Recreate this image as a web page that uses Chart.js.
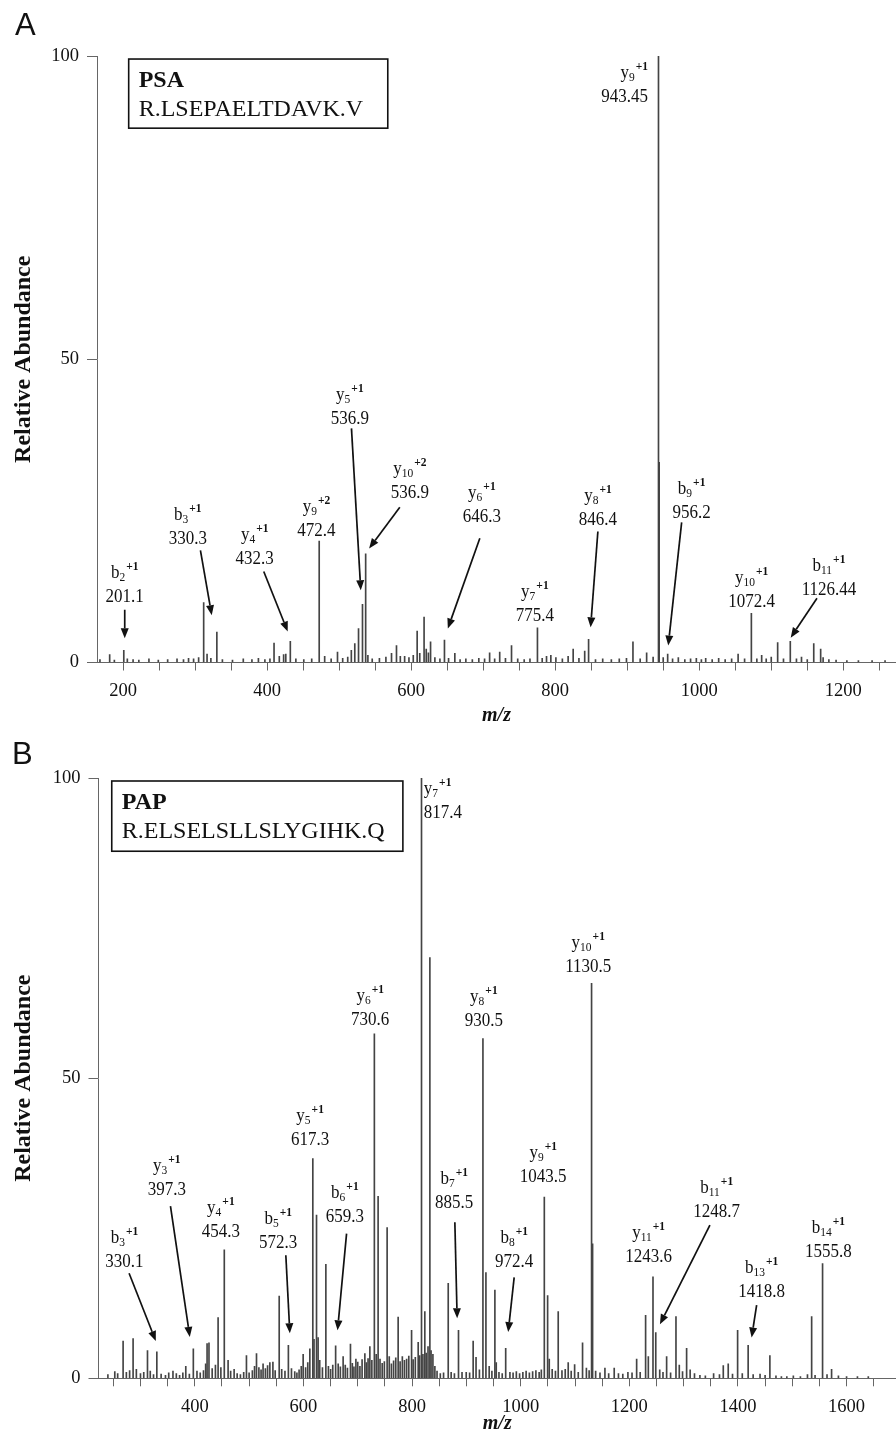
<!DOCTYPE html>
<html>
<head>
<meta charset="utf-8">
<title>MS/MS spectra of PSA and PAP peptides</title>
<script src="https://cdn.jsdelivr.net/npm/chart.js@4.4.1/dist/chart.umd.min.js"></script>
<style>
  html, body { margin: 0; padding: 0; background: #fff; }
  #wrap { position: relative; width: 896px; height: 1436px; overflow: hidden; background: #fff; }
  canvas { position: absolute; left: 0; display: block; }
  #cA { top: 0; }
  #cB { top: 730px; }
  .letter { position: absolute; font-family: "Liberation Sans", Arial, sans-serif; font-size: 31px; line-height: 1; color: #111; }
</style>
</head>
<body>
<div id="wrap">
  <canvas id="cA" width="896" height="730" style="width:896px;height:730px"></canvas>
  <canvas id="cB" width="896" height="706" style="width:896px;height:706px"></canvas>
  <div class="letter" style="left:15px;top:9px">A</div>
  <div class="letter" style="left:12px;top:738px">B</div>
</div>
<script>
const SERIF = '"Liberation Serif", "Times New Roman", Times, serif';

// ---------- Panel A: PSA, R.LSEPAELTDAVK.V ----------
const mzA = [168, 181.5, 188, 201.1, 206, 214, 222, 236, 249, 262, 275, 284, 291, 298, 305, 312, 316.7, 322, 330.3, 338,
  352, 367, 379, 388, 397, 404, 409.7, 417, 423, 426, 432.3, 440, 451, 462, 472.4, 480, 489, 497.8, 505, 512,
  517, 521.8, 527, 532.5, 536.9, 540, 546, 556, 565, 572.8, 579.7, 585, 591, 597, 603, 608.4, 612, 618, 621, 624,
  627, 633, 640, 646.3, 652, 660.7, 668, 676, 685, 694, 702, 709, 716, 723, 731, 739.4, 748, 757, 765, 775.4,
  782, 788, 794, 801, 810, 818, 825, 833, 841, 846.4, 856, 866, 878, 889, 899, 908, 918, 927, 936, 943.45,
  944.4, 950, 956.2, 963, 971, 980, 988, 996, 1003, 1009, 1018, 1027, 1036, 1045, 1054, 1063, 1072.4, 1080, 1086.7, 1093,
  1100, 1108.9, 1117, 1126.44, 1135, 1142, 1150, 1159, 1168.6, 1172, 1180, 1190, 1205, 1221, 1240, 1258];
const abundanceA = [0.5, 1.3, 0.4, 2.0, 0.6, 0.5, 0.4, 0.6, 0.4, 0.5, 0.6, 0.5, 0.7, 0.6, 0.8, 9.9, 1.4, 0.7, 5.0, 0.5,
  0.4, 0.6, 0.5, 0.7, 0.5, 0.6, 3.2, 1.0, 1.3, 1.4, 3.5, 0.6, 0.5, 0.6, 20.0, 1.0, 0.6, 1.7, 0.7, 0.9,
  2.0, 3.1, 5.6, 9.6, 17.9, 1.2, 0.6, 0.7, 0.9, 1.5, 2.8, 1.0, 1.0, 0.8, 1.2, 5.2, 1.5, 7.5, 2.2, 1.6,
  3.4, 0.8, 0.6, 3.7, 0.7, 1.5, 0.5, 0.6, 0.5, 0.7, 0.6, 1.6, 0.6, 1.7, 0.7, 2.8, 0.6, 0.5, 0.6, 5.7,
  0.7, 1.0, 1.2, 0.8, 0.6, 1.0, 2.2, 0.7, 1.9, 3.8, 0.5, 0.6, 0.5, 0.6, 0.7, 3.4, 0.6, 1.6, 0.9, 100,
  33, 0.8, 1.4, 0.6, 0.8, 0.5, 0.6, 0.7, 0.5, 0.7, 0.5, 0.7, 0.5, 0.6, 1.4, 0.6, 8.1, 0.6, 1.2, 0.6,
  0.9, 3.3, 0.6, 3.5, 0.6, 0.9, 0.5, 3.1, 2.2, 0.8, 0.5, 0.4, 0.3, 0.3, 0.3, 0.3];
const xTicksA = [200, 250, 300, 350, 400, 450, 500, 550, 600, 650, 700, 750, 800, 850, 900, 950, 1000, 1050, 1100, 1150, 1200, 1250];
const xTickLabelsA = [200, 400, 600, 800, 1000, 1200];

// labelled fragment ions (mz is the labelled peak)
const ionsA = [
  { ion: 'b', n: '2', z: '+1', mz: 201.1 },
  { ion: 'b', n: '3', z: '+1', mz: 330.3 },
  { ion: 'y', n: '4', z: '+1', mz: 432.3 },
  { ion: 'y', n: '9', z: '+2', mz: 472.4 },
  { ion: 'y', n: '5', z: '+1', mz: 536.9 },
  { ion: 'y', n: '10', z: '+2', mz: 536.9 },
  { ion: 'y', n: '6', z: '+1', mz: 646.3 },
  { ion: 'y', n: '7', z: '+1', mz: 775.4 },
  { ion: 'y', n: '8', z: '+1', mz: 846.4 },
  { ion: 'y', n: '9', z: '+1', mz: 943.45 },
  { ion: 'b', n: '9', z: '+1', mz: 956.2 },
  { ion: 'y', n: '10', z: '+1', mz: 1072.4 },
  { ion: 'b', n: '11', z: '+1', mz: 1126.44 }
];
// label anchors in (m/z, abundance) units; arrow = [from, to]
const placeA = [
  { at: [202.4, 9.9], arrow: [[202.4, 8.7], [202.4, 4.0]] },
  { at: [289.9, 19.6], arrow: [[307.5, 18.5], [323.2, 7.8]] },
  { at: [382.9, 16.3], arrow: [[395.4, 15.0], [428.7, 5.1]] },
  { at: [468.6, 20.8] },
  { at: [514.9, 39.4], arrow: [[517.2, 38.6], [530.1, 11.9]] },
  { at: [598.2, 27.1], arrow: [[584.3, 25.6], [541.7, 18.8]] },
  { at: [698.2, 23.1], arrow: [[695.4, 20.5], [651.0, 5.6]] },
  { at: [771.8, 6.9] },
  { at: [859.3, 22.6], arrow: [[859.3, 21.6], [849.2, 5.8]] },
  { at: [928.8, 92.4], align: 'right' },
  { at: [989.4, 23.9], arrow: [[975.6, 23.1], [957.0, 2.8]] },
  { at: [1072.8, 9.1] },
  { at: [1180.1, 11.1], arrow: [[1163.5, 10.6], [1127.0, 4.1]] }
];

// ---------- Panel B: PAP, R.ELSELSLLSLYGIHK.Q ----------
const mzB = [240, 252.7, 258, 268, 274, 280, 286.4, 292.4, 300, 306, 312.9, 318, 324, 330.1, 338, 346, 352, 359.8, 366, 372,
  378, 383.4, 390, 397.3, 404, 410, 416, 420, 422.6, 426.1, 432, 438, 442.9, 448, 454.3, 461.3, 466, 472.4, 478, 484,
  490, 495.1, 500, 506, 510, 513.6, 518, 522, 525.7, 530, 534, 538.2, 543.8, 548, 555.4, 560, 566, 572.3, 578, 584,
  588, 592, 596, 599.5, 604, 608, 611.8, 617.3, 619.5, 624.1, 627, 630, 635, 641.3, 646, 650, 654, 659.3, 664, 668,
  673.1, 677, 681, 686.6, 690, 693, 696.6, 700, 704, 708, 713.1, 716, 719, 722.3, 726, 730.6, 734, 737.5, 741, 745,
  749, 754.1, 758, 762, 766, 770, 774.4, 778, 782.1, 786, 790, 794, 799.1, 802, 806, 811.3, 814, 817.4, 820, 823.5,
  826, 829.4, 832.8, 835, 838.4, 842, 846, 852, 858, 866.6, 872, 878, 885.5, 892, 899.7, 906, 912.5, 917.8, 924, 930.5,
  936, 942, 947, 952.5, 955, 960, 966, 972.4, 980.2, 986, 992, 998, 1004, 1010, 1016, 1022, 1028, 1034, 1038, 1043.5,
  1049.6, 1052.6, 1058, 1064, 1069.1, 1076, 1082, 1087.5, 1093, 1099.3, 1106, 1113.9, 1121, 1126, 1130.5, 1132.4, 1138, 1146, 1155.1, 1162,
  1172.2, 1180, 1188, 1197.4, 1205, 1213.5, 1220, 1230, 1235, 1243.6, 1248.7, 1256, 1262, 1268.7, 1276, 1285.9, 1292, 1298, 1305.5, 1312,
  1320, 1330, 1340, 1355.2, 1366, 1373, 1382.1, 1390, 1399.4, 1408, 1418.8, 1428, 1440.7, 1450, 1458.8, 1470, 1480, 1490, 1502, 1515,
  1528, 1535.7, 1542, 1555.8, 1564, 1572.4, 1585, 1600, 1620, 1640];
const abundanceB = [0.6, 1.1, 0.8, 6.2, 1.0, 1.3, 6.6, 1.5, 0.8, 1.0, 4.6, 1.2, 0.6, 4.4, 0.7, 0.5, 0.9, 1.2, 0.8, 0.5,
  0.9, 2.0, 0.7, 4.9, 1.2, 0.9, 1.3, 2.4, 5.8, 5.9, 1.6, 2.2, 10.1, 1.8, 21.4, 3.0, 1.2, 1.5, 0.8, 0.6,
  1.0, 3.8, 0.9, 1.3, 2.0, 4.1, 1.8, 1.4, 2.4, 1.6, 2.1, 2.6, 2.7, 1.3, 13.7, 1.5, 1.2, 5.5, 1.6, 1.1,
  0.9, 1.4, 2.0, 4.0, 1.8, 2.6, 4.9, 36.6, 6.5, 27.2, 6.8, 3.0, 1.8, 19.0, 2.0, 1.5, 2.2, 5.4, 2.4, 1.9,
  3.6, 2.2, 1.7, 5.7, 2.5, 1.9, 3.2, 2.7, 2.0, 3.1, 4.1, 2.6, 3.3, 5.3, 3.0, 57.4, 4.0, 30.3, 3.2, 2.5,
  2.8, 25.1, 3.6, 2.4, 2.9, 3.4, 10.2, 2.8, 3.6, 3.0, 3.2, 3.7, 8.0, 3.1, 3.5, 6.0, 3.8, 100, 4.0, 11.1,
  4.2, 5.3, 70.1, 4.6, 4.0, 2.0, 1.2, 0.8, 0.9, 15.8, 1.0, 0.8, 8.0, 1.0, 1.0, 0.9, 6.2, 3.5, 1.4, 56.6,
  17.6, 2.0, 1.2, 14.7, 2.6, 1.0, 0.8, 5.0, 1.0, 0.9, 1.1, 0.8, 1.0, 1.2, 0.9, 1.1, 1.3, 1.0, 1.4, 30.2,
  13.8, 3.2, 1.5, 1.2, 11.1, 1.3, 1.5, 2.6, 1.2, 2.3, 1.0, 5.9, 1.7, 1.3, 65.8, 22.4, 1.2, 0.9, 1.7, 0.8,
  1.7, 0.8, 0.7, 1.0, 0.9, 3.2, 1.0, 10.5, 3.6, 16.9, 7.6, 1.4, 1.0, 3.6, 0.9, 10.3, 2.2, 1.1, 5.0, 1.4,
  0.8, 0.5, 0.4, 0.8, 0.6, 2.1, 2.4, 0.7, 8.0, 0.8, 5.5, 0.6, 0.7, 0.5, 3.8, 0.4, 0.3, 0.3, 0.4, 0.3,
  0.6, 10.3, 0.5, 19.1, 0.6, 1.5, 0.4, 0.3, 0.3, 0.3];
const xTicksB = [250, 300, 350, 400, 450, 500, 550, 600, 650, 700, 750, 800, 850, 900, 950, 1000, 1050, 1100, 1150,
  1200, 1250, 1300, 1350, 1400, 1450, 1500, 1550, 1600, 1650];
const xTickLabelsB = [400, 600, 800, 1000, 1200, 1400, 1600];

const ionsB = [
  { ion: 'b', n: '3', z: '+1', mz: 330.1 },
  { ion: 'y', n: '3', z: '+1', mz: 397.3 },
  { ion: 'y', n: '4', z: '+1', mz: 454.3 },
  { ion: 'b', n: '5', z: '+1', mz: 572.3 },
  { ion: 'y', n: '5', z: '+1', mz: 617.3 },
  { ion: 'b', n: '6', z: '+1', mz: 659.3 },
  { ion: 'y', n: '6', z: '+1', mz: 730.6 },
  { ion: 'y', n: '7', z: '+1', mz: 817.4 },
  { ion: 'b', n: '7', z: '+1', mz: 885.5 },
  { ion: 'y', n: '8', z: '+1', mz: 930.5 },
  { ion: 'b', n: '8', z: '+1', mz: 972.4 },
  { ion: 'y', n: '9', z: '+1', mz: 1043.5 },
  { ion: 'y', n: '10', z: '+1', mz: 1130.5 },
  { ion: 'y', n: '11', z: '+1', mz: 1243.6 },
  { ion: 'b', n: '11', z: '+1', mz: 1248.7 },
  { ion: 'b', n: '13', z: '+1', mz: 1418.8 },
  { ion: 'b', n: '14', z: '+1', mz: 1555.8 }
];
const placeB = [
  { at: [270.5, 18.5], arrow: [[279.0, 17.5], [328.2, 6.2]] },
  { at: [348.4, 30.5], arrow: [[355.2, 28.7], [390.8, 6.9]] },
  { at: [447.9, 23.5] },
  { at: [553.4, 21.7], arrow: [[567.6, 20.5], [575.0, 7.5]] },
  { at: [612.3, 38.8] },
  { at: [676.2, 26.0], arrow: [[679.4, 24.1], [662.8, 8.0]] },
  { at: [722.8, 58.8] },
  { at: [821.7, 93.3], align: 'left' },
  { at: [877.5, 28.3], arrow: [[878.8, 26.0], [883.0, 10.0]] },
  { at: [932.2, 58.7] },
  { at: [988.0, 18.5], arrow: [[988.0, 16.8], [977.0, 7.7]] },
  { at: [1041.4, 32.7] },
  { at: [1124.3, 67.7] },
  { at: [1235.5, 19.3] },
  { at: [1360.8, 26.8], arrow: [[1348.4, 25.5], [1256.4, 9.0]] },
  { at: [1443.6, 13.5], arrow: [[1434.4, 12.2], [1425.2, 6.8]] },
  { at: [1566.3, 20.2] }
];

const yTicks = [0, 50, 100];

// ---------- drawing helpers ----------
function stretchedText(ctx, text, x, y, sy) {
  ctx.save();
  ctx.translate(x, y);
  ctx.scale(1, sy);
  ctx.fillText(text, 0, 0);
  ctx.restore();
}

function drawIonLabel(ctx, ion, px, py, align) {
  const MAIN = 17, SMALL = 11.5, SY = 1.12;
  const value = String(ion.mz);
  ctx.fillStyle = '#111';
  ctx.textBaseline = 'alphabetic';
  ctx.textAlign = 'left';
  ctx.font = MAIN + 'px ' + SERIF;
  const wVal = ctx.measureText(value).width;
  const wIon = ctx.measureText(ion.ion).width;
  ctx.font = SMALL + 'px ' + SERIF;
  const wSub = ctx.measureText(ion.n).width;
  const wSup = ctx.measureText(ion.z).width;
  const wHead = wIon + wSub + wSup + 1;

  let xVal, xHead;
  if (align === 'right') { xVal = px - wVal; xHead = px - wHead; }
  else if (align === 'left') { xVal = px; xHead = px; }
  else { xVal = px - wVal / 2; xHead = px - wHead / 2; }

  ctx.font = MAIN + 'px ' + SERIF;
  stretchedText(ctx, value, xVal, py, SY);
  const hb = py - 24;
  stretchedText(ctx, ion.ion, xHead, hb, SY);
  ctx.font = SMALL + 'px ' + SERIF;
  stretchedText(ctx, ion.n, xHead + wIon, hb + 3, SY);
  ctx.font = 'bold ' + SMALL + 'px ' + SERIF;
  stretchedText(ctx, ion.z, xHead + wIon + wSub + 1, hb - 8, SY);
}

function drawArrow(ctx, x0, y0, x1, y1) {
  const ang = Math.atan2(y1 - y0, x1 - x0);
  const L = 10, W = 4;
  const bx = x1 - L * Math.cos(ang), by = y1 - L * Math.sin(ang);
  ctx.strokeStyle = '#111';
  ctx.lineWidth = 1.7;
  ctx.beginPath();
  ctx.moveTo(x0, y0);
  ctx.lineTo(bx, by);
  ctx.stroke();
  ctx.fillStyle = '#111';
  ctx.beginPath();
  ctx.moveTo(x1, y1);
  ctx.lineTo(bx + W * Math.sin(ang), by - W * Math.cos(ang));
  ctx.lineTo(bx - W * Math.sin(ang), by + W * Math.cos(ang));
  ctx.closePath();
  ctx.fill();
}

function annotationPlugin(p) {
  return {
    id: 'ionAnnotations',
    afterDatasetsDraw(chart) {
      const { ctx, scales: { x, y } } = chart;
      ctx.save();
      // peptide box
      const bl = x.getPixelForValue(p.box[0][0]), bt = y.getPixelForValue(p.box[0][1]);
      const br = x.getPixelForValue(p.box[1][0]), bb = y.getPixelForValue(p.box[1][1]);
      ctx.strokeStyle = '#111';
      ctx.lineWidth = 1.6;
      ctx.strokeRect(bl, bt, br - bl, bb - bt);
      ctx.fillStyle = '#111';
      ctx.textAlign = 'left';
      ctx.textBaseline = 'alphabetic';
      ctx.font = 'bold 24px ' + SERIF;
      ctx.fillText(p.protein, bl + 10, bt + 28);
      ctx.font = '24px ' + SERIF;
      ctx.fillText(p.peptide, bl + 10, bt + 57);
      // fragment-ion labels and arrows
      p.ions.forEach((ion, i) => {
        const pl = p.place[i];
        drawIonLabel(ctx, ion, x.getPixelForValue(pl.at[0]), y.getPixelForValue(pl.at[1]), pl.align || 'center');
        if (pl.arrow) {
          drawArrow(ctx,
            x.getPixelForValue(pl.arrow[0][0]), y.getPixelForValue(pl.arrow[0][1]),
            x.getPixelForValue(pl.arrow[1][0]), y.getPixelForValue(pl.arrow[1][1]));
        }
      });
      ctx.restore();
    }
  };
}

function makeSpectrum(canvasId, p) {
  return new Chart(document.getElementById(canvasId), {
    type: 'bar',
    data: {
      datasets: [{
        data: p.mz.map((m, i) => ({ x: m, y: p.abundance[i] })),
        backgroundColor: '#444',
        borderWidth: 0,
        barThickness: 1
      }]
    },
    options: {
      responsive: false,
      animation: false,
      devicePixelRatio: 1,
      layout: { autoPadding: false, padding: { top: p.top, left: 0, right: 0, bottom: 0 } },
      plugins: { legend: { display: false }, tooltip: { enabled: false } },
      scales: {
        x: {
          type: 'linear',
          min: p.xMin, max: p.xMax,
          offset: false,
          afterBuildTicks: s => { s.ticks = p.xTicks.map(v => ({ value: v })); },
          afterFit: s => { s.height = p.xHeight; },
          grid: { drawOnChartArea: false, offset: false, tickLength: 8, color: '#666', tickWidth: 1 },
          border: { display: true, color: '#666', width: 1 },
          ticks: {
            autoSkip: false, maxRotation: 0, padding: 10, color: '#111',
            font: { family: SERIF, size: 18.5 },
            callback: v => (p.xLabels.indexOf(v) >= 0 ? String(v) : '')
          },
          title: {
            display: true, text: 'm/z', color: '#111',
            font: { family: SERIF, size: 20, weight: 'bold', style: 'italic' },
            padding: { top: 0, bottom: p.titlePad }
          }
        },
        y: {
          min: 0, max: 100,
          afterBuildTicks: s => { s.ticks = yTicks.map(v => ({ value: v })); },
          afterFit: s => { s.width = p.yWidth; },
          grid: { drawOnChartArea: false, tickLength: 10, color: '#666', tickWidth: 1 },
          border: { display: true, color: '#666', width: 1 },
          ticks: { padding: 8, color: '#111', font: { family: SERIF, size: 18.5 } },
          title: {
            display: true, text: 'Relative Abundance', color: '#111',
            font: { family: SERIF, size: 24, weight: 'bold' },
            padding: { top: 9, bottom: 0 }
          }
        }
      }
    },
    plugins: [annotationPlugin(p)]
  });
}

makeSpectrum('cA', {
  mz: mzA, abundance: abundanceA, xTicks: xTicksA, xLabels: xTickLabelsA,
  xMin: 163.9, xMax: 1273.2, top: 56, xHeight: 67.5, yWidth: 97, titlePad: 2,
  ions: ionsA, place: placeA,
  protein: 'PSA', peptide: 'R.LSEPAELTDAVK.V', box: [[207.9, 99.5], [567.6, 88.1]]
});

makeSpectrum('cB', {
  mz: mzB, abundance: abundanceB, xTicks: xTicksB, xLabels: xTickLabelsB,
  xMin: 222.7, xMax: 1691, top: 48, xHeight: 57.7, yWidth: 98.5, titlePad: 0,
  ions: ionsB, place: placeB,
  protein: 'PAP', peptide: 'R.ELSELSLLSLYGIHK.Q', box: [[247.1, 99.5], [783.1, 87.8]]
});
</script>
</body>
</html>
